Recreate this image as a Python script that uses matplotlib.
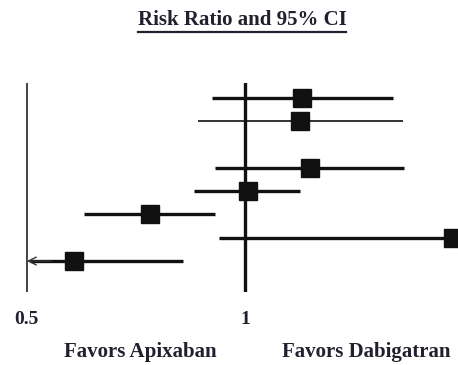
import matplotlib
matplotlib.use("Agg")
import matplotlib.pyplot as plt
from matplotlib.lines import Line2D
import numpy as np

# risk ratio rows, top to bottom (row 2 is an empty slot)
rows = [0, 1, 3, 4, 5, 6, 7]
rr = [1.20, 1.19, 1.23, 1.01, 0.74, 1.94, 0.58]
lo = [0.90, 0.86, 0.91, 0.85, 0.60, 0.92, 0.50]
hi = [1.60, 1.65, 1.66, 1.19, 0.91, 3.00, 0.82]
widths = [2.4, 1.2, 2.4, 2.4, 2.4, 2.4, 2.4]
tick_vals = [0.5, 1]
tick_labels = ["0.5", "1"]

txt = "#20202e"
font = "Liberation Serif"

fig = plt.figure(figsize=(4.58, 3.65), dpi=100)
ax = fig.add_axes([0, 0.2, 1, 0.5726])
ax.set_xscale("log", base=2)
ax.set_xlim(0.459, 1.968)
ax.set_ylim(8.33, -0.64)

ax.axvline(0.5, color="#222222", lw=1.2)
ax.axvline(1, color="#111111", lw=2.4)

for r, m, l, h, w in zip(rows, rr, lo, hi, widths):
    if l <= 0.5:
        # lower limit runs off the scale: draw an arrow at 0.5
        ax.plot([0.505, h], [r, r], color="#111111", lw=w, solid_capstyle="butt")
        ax.annotate("", xy=(0.5, r), xytext=(0.54, r),
                    arrowprops=dict(arrowstyle="->", color="#333333", lw=1.0,
                                    mutation_scale=14, shrinkA=0, shrinkB=0))
    else:
        ax.plot([l, h], [r, r], color="#111111", lw=w, solid_capstyle="butt")
    ax.plot(m, r, marker="s", markersize=13.5, color="#111111")

for s in ax.spines.values():
    s.set_visible(False)
ax.set_yticks([])
ax.set_xticks(tick_vals)
ax.set_xticklabels(tick_labels, fontfamily=font, fontweight="bold",
                   fontsize=14, color=txt)
ax.minorticks_off()
ax.tick_params(axis="x", length=0, pad=14)

fig.text(140 / 458, 1 - 352 / 365, "Favors Apixaban", ha="center", va="center",
         fontfamily=font, fontweight="bold", fontsize=15, color=txt)
fig.text(366 / 458, 1 - 352 / 365, "Favors Dabigatran", ha="center", va="center",
         fontfamily=font, fontweight="bold", fontsize=15, color=txt)

title = fig.text(242 / 458, 1 - 20 / 365, "Risk Ratio and 95% CI", ha="center",
                 va="center", fontfamily=font, fontweight="bold", fontsize=15,
                 color=txt)
fig.canvas.draw()
bb = title.get_window_extent().transformed(fig.transFigure.inverted())
fig.add_artist(Line2D([bb.x0, bb.x1], [1 - 32 / 365] * 2, color=txt, lw=1.6,
                      transform=fig.transFigure))

fig.savefig("out.png", dpi=100)
